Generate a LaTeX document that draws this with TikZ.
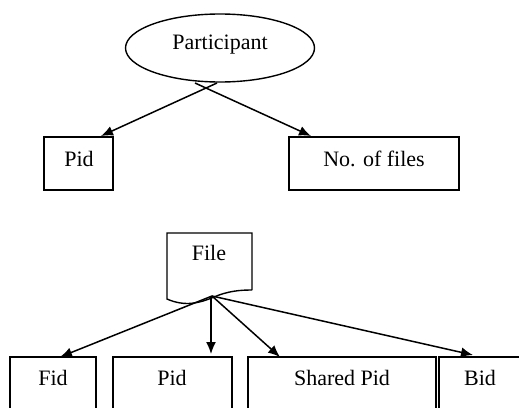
\documentclass[tikz,border=0pt]{standalone}
\usepackage{fontspec}
\setmainfont{Liberation Serif}
\usetikzlibrary{arrows.meta,shapes.geometric}
\begin{document}
\begin{tikzpicture}[x=1pt,y=-1pt,line width=1.5pt,
  lbl/.style={font=\fontsize{22}{26}\selectfont,inner sep=0pt,anchor=base},
  arr/.style={-{Latex[length=12pt,width=10pt]}},
  box/.style={draw,line width=1.4pt}]
\useasboundingbox (0,0) rectangle (519,407);
\clip (0,0) rectangle (519,407);
% Participant
\node[draw,ellipse,minimum width=189pt,minimum height=68pt,line width=1.4pt] (part) at (220,48) {};
\node[lbl] (parttxt) at (220,49) {Participant};
\coordinate (pa) at (217,83);
\coordinate (pb) at (195,83);
\draw[box] (44,137) rectangle (113,190);
\node[lbl] (pid1) at (79,166) {Pid};
\coordinate (pidtop) at (101,136);
\draw[box] (289,137) rectangle (459,190);
\node[lbl] (nof) at (374,166) {No. of files};
\coordinate (noftop) at (311,136);
\draw[arr] (pa) -- (pidtop);
\draw[arr] (pb) -- (noftop);
% File document shape
\draw[line width=1.4pt] (252,290) -- (252,233) -- (167,233) -- (167,299)
  .. controls (185,307) and (200,303) .. (214,297)
  .. controls (228,291) and (240,290) .. (252,290);
\node[lbl] (file) at (209,260) {File};
\coordinate (fo) at (212,296);
% bottom boxes
\draw[box] (10,357) rectangle (96,412);
\node[lbl] (fid) at (53,385) {Fid};
\draw[box] (113,357) rectangle (232,412);
\node[lbl] (pid2) at (172,385) {Pid};
\draw[box] (248,357) rectangle (436,412);
\node[lbl] (spid) at (342,385) {Shared Pid};
\draw[box] (439,357) rectangle (525,412);
\node[lbl] (bid) at (480,385) {Bid};
\coordinate (fidtop) at (60,357);
\coordinate (pidtop2) at (211,354);
\coordinate (spidtop) at (280,357);
\coordinate (bidtop) at (473,355);
\draw[arr] (fo) -- (fidtop);
\draw[arr] (211,296) -- (pidtop2);
\draw[arr] (fo) -- (spidtop);
\draw[arr] (fo) -- (bidtop);
\end{tikzpicture}
\end{document}
